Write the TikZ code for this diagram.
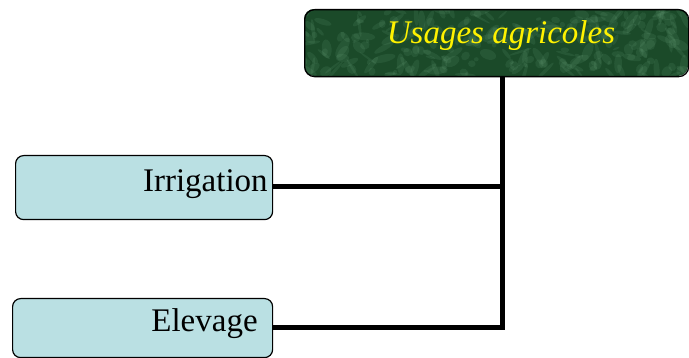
\documentclass[tikz,border=0pt]{standalone}
\usepackage{fontspec}
\setmainfont{Liberation Serif}
\begin{document}
\begin{tikzpicture}[x=1pt,y=-1pt,
  leafbox/.style={draw=black, line width=1.2pt, rounded corners=8pt, fill=leafcyan},
  link/.style={draw=black, line width=5pt},
  labeltext/.style={font=\fontsize{33}{36}\selectfont}]
\definecolor{leafcyan}{HTML}{BAE0E3}
\definecolor{marbledark}{HTML}{1B4A29}
\definecolor{marblelight}{HTML}{7DB58F}
\useasboundingbox (0,0) rectangle (689,358);

% header box with a mottled green fill
\begin{scope}
  \clip[rounded corners=10pt] (304,9) rectangle (688,76);
  \fill[marbledark] (304,9) rectangle (688,76);
  \pgfmathsetseed{4711}
  \foreach \i in {1,...,260}{
    \pgfmathsetmacro{\px}{304+384*rnd}
    \pgfmathsetmacro{\py}{9+67*rnd}
    \pgfmathsetmacro{\rx}{2+10*rnd}
    \pgfmathsetmacro{\ry}{1+4*rnd}
    \pgfmathsetmacro{\ang}{360*rnd}
    \fill[marblelight, opacity=0.12, rotate around={\ang:(\px,\py)}]
      (\px,\py) ellipse ({\rx} and {\ry});
  }
\end{scope}
\node[draw=black, line width=1.3pt, rounded corners=10pt,
      minimum width=384pt, minimum height=67pt, inner sep=0pt,
      anchor=north west] (head) at (304,9) {};
\node[text=yellow, font=\fontsize{33}{36}\selectfont\itshape]
  (headtext) at (501,36) {Usages agricoles};

% leaf boxes
\node[leafbox, minimum width=257pt, minimum height=64pt, inner sep=0pt,
      anchor=north west] (irr) at (15,155) {};
\node[labeltext, anchor=east] (irrtext) at ([xshift=-2pt,yshift=3pt]irr.east) {Irrigation};
\node[leafbox, minimum width=260pt, minimum height=59pt, inner sep=0pt,
      anchor=north west] (ele) at (12,298) {};
\node[labeltext, anchor=east] (eletext) at ([xshift=-12pt,yshift=4pt]ele.east) {Elevage};

% connectors
\coordinate (join) at (502,187);
\coordinate (bend) at (502,328);
\draw[link] (head.south -| join) -- (bend);
\draw[link] (irr.east |- join) -- (join);
\draw[link] (ele.east |- bend) -- ([xshift=2.5pt]bend);
\end{tikzpicture}
\end{document}
